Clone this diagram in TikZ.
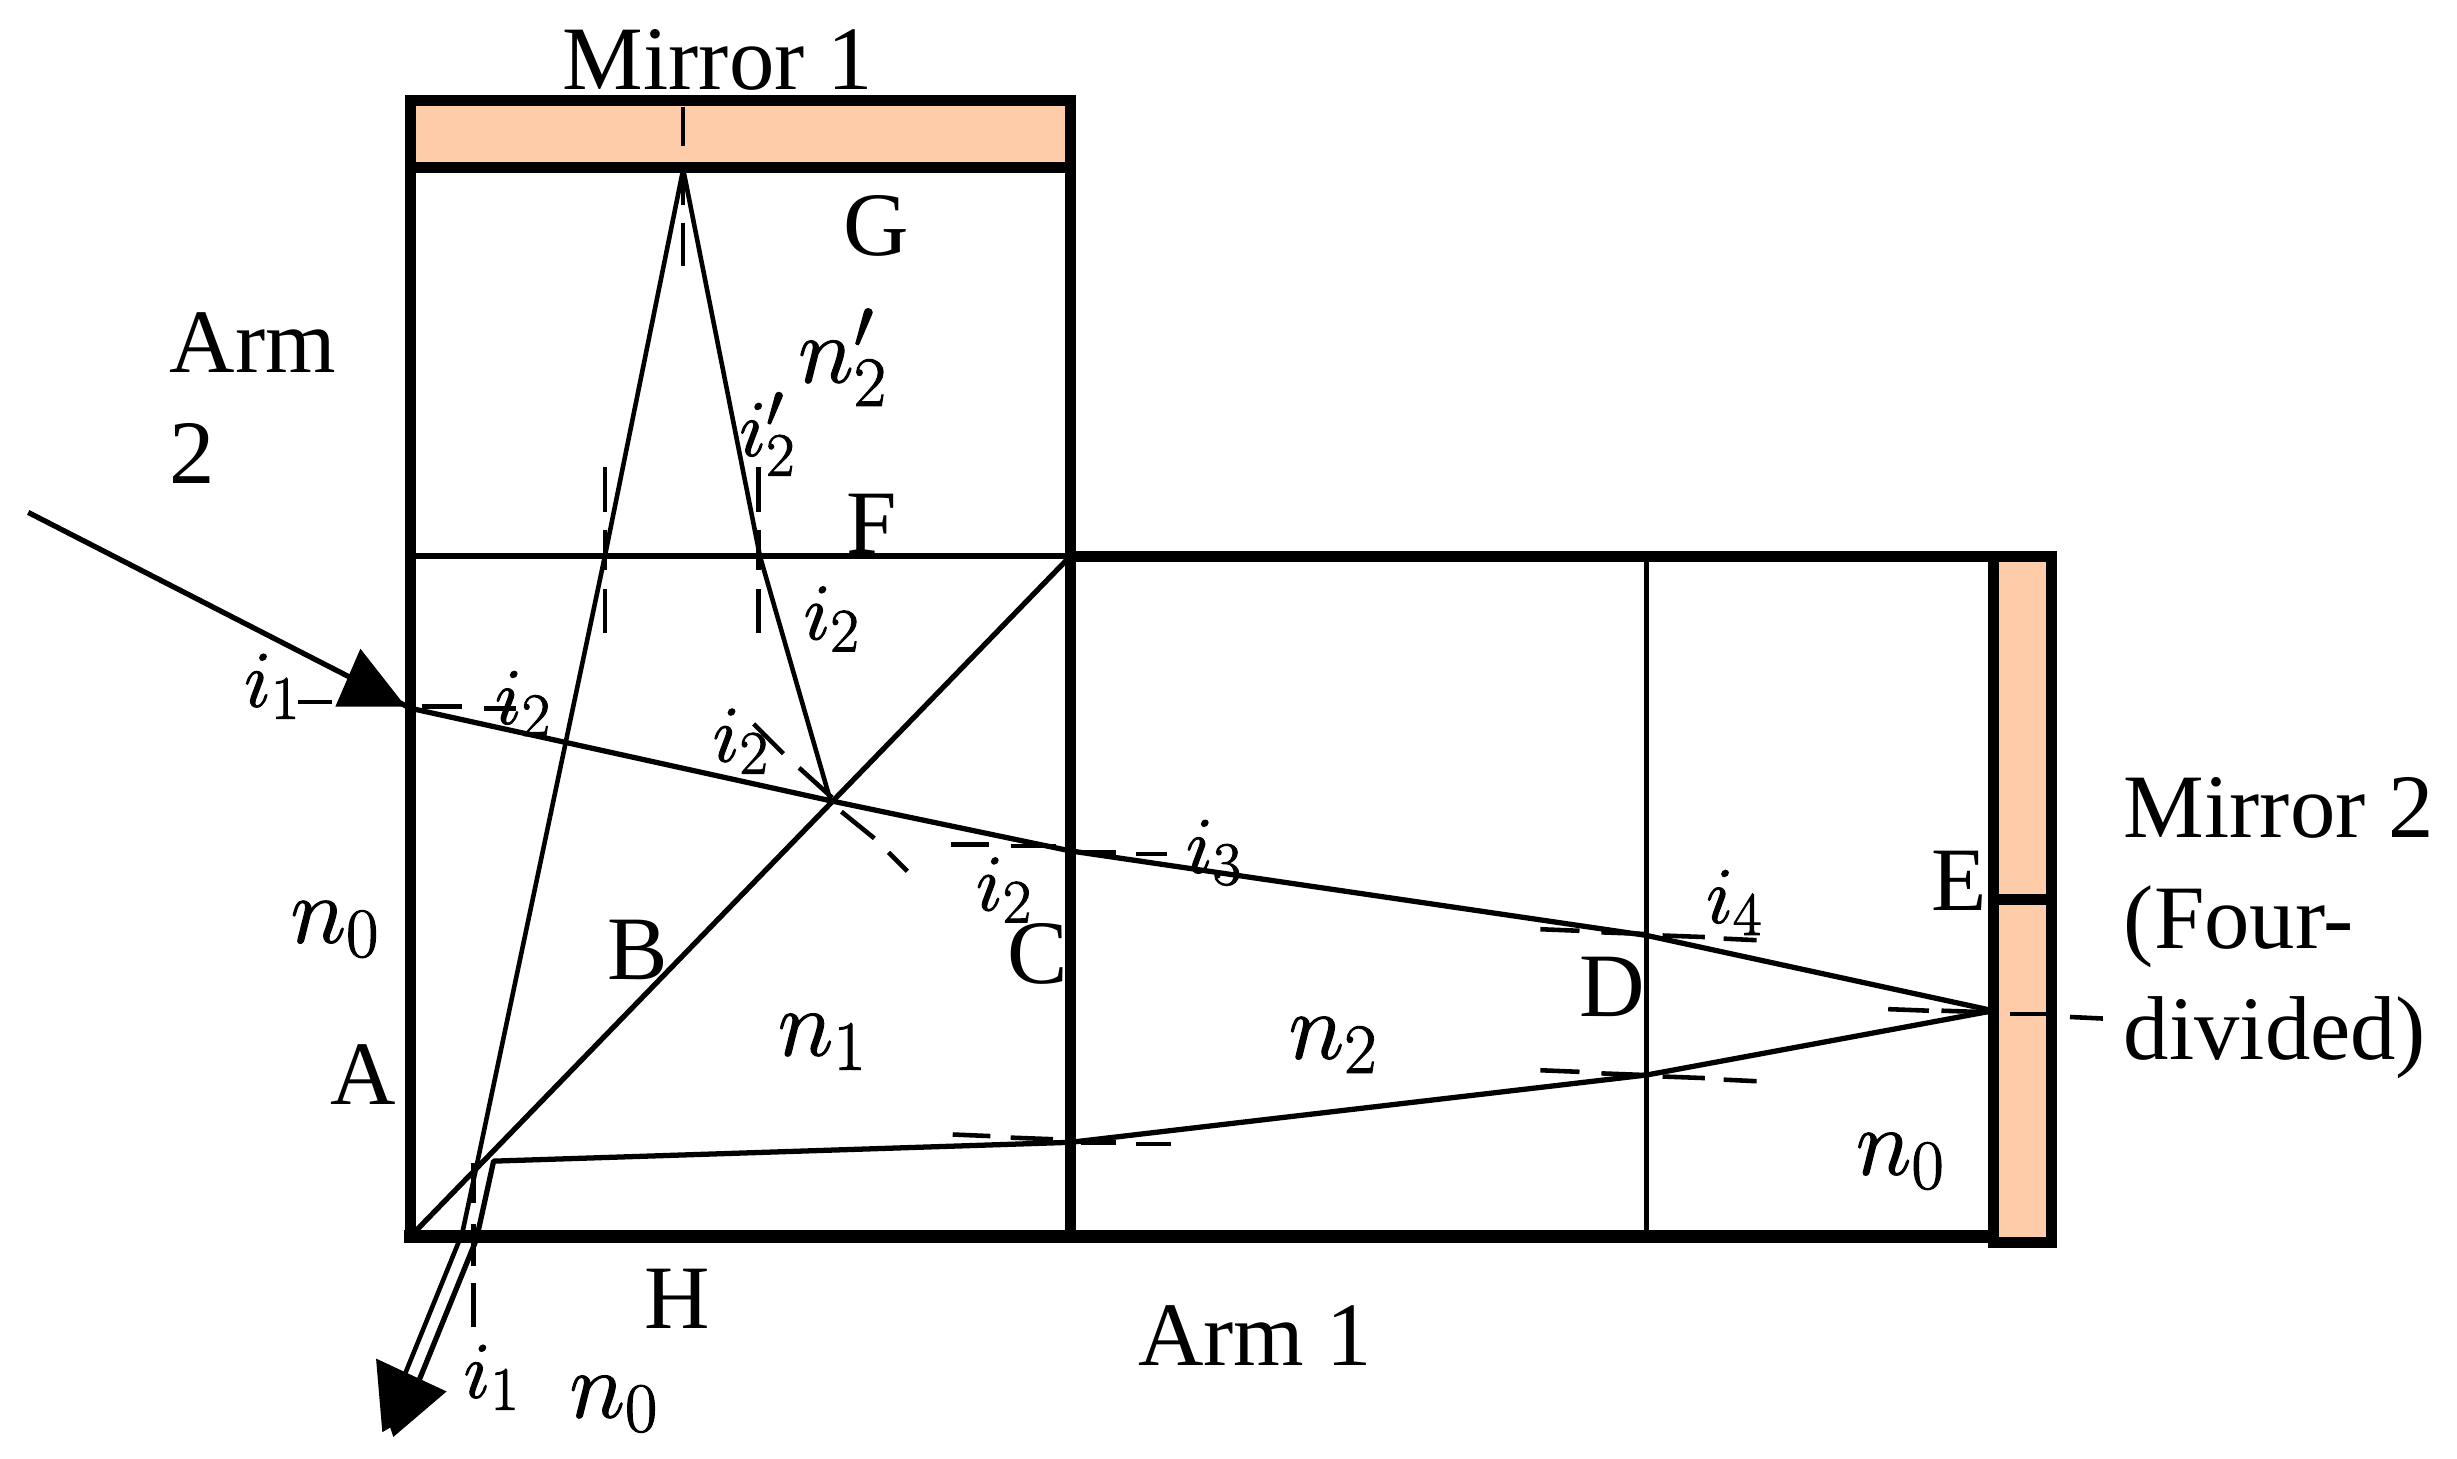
\documentclass[tikz,border=0pt]{standalone}
\usepackage{fix-cm}
\usepackage{fontspec}
\setmainfont{Liberation Serif}
\DeclareMathSizes{27}{27}{20}{16}
\DeclareMathSizes{22.8}{22.8}{17.5}{14}
\definecolor{peach}{HTML}{FFCCAA}
\newcommand{\heavy}[1]{\special{pdf:code 2 Tr 0.3 w}#1\special{pdf:code 0 Tr}}
\tikzset{
  wall/.style={line width=3.1pt,line cap=rect},
  floorline/.style={line width=3.5pt,line cap=rect},
  thinwall/.style={line width=1.6pt},
  ray/.style={line width=1.5pt},
  normal/.style={line width=1.3pt},
  txt/.style={inner sep=0pt,font=\fontsize{25.8}{31.5}\selectfont},
  sym/.style={inner sep=0pt,font=\fontsize{27}{30}\selectfont},
  ang/.style={inner sep=0pt,font=\fontsize{22.8}{25}\selectfont},
  mirrorbox/.style={draw=black,fill=peach,line width=3.1pt,inner sep=0pt}
}
\begin{document}
\begin{tikzpicture}[x=0.01567cm,y=-0.01567cm]
\useasboundingbox (0,0) rectangle (1568,931);
% mirrors
\draw[mirrorbox] (262,64) rectangle (683,107);
\draw[mirrorbox] (1272,355) rectangle (1309,793);
\draw[wall] (1272,574) -- (1309,574);
% walls
\coordinate (TL) at (262,64);
\coordinate (BL) at (262,789);
\coordinate (TR) at (683,64);
\coordinate (BR) at (683,789);
\coordinate (FL) at (262,355);
\coordinate (FR) at (683,355);
\coordinate (MT) at (1272,355);
\coordinate (MB) at (1272,789);
\coordinate (DT) at (1051,355);
\coordinate (DB) at (1051,789);
\draw[wall] (TL) -- (BL);
\draw[floorline] (BL) -- (MB);
\draw[wall] (TR) -- (BR);
\draw[wall] (FR) -- (MT);
\draw[thinwall] (FL) -- (FR);
\draw[line width=1.4pt] (DT) -- (DB);
\draw[line width=1.5pt] (BL) -- (FR);
% ray points
\coordinate (start) at (18,327);
\coordinate (P1) at (262,452);
\coordinate (P2) at (530,511);
\coordinate (P3) at (683,543);
\coordinate (P4) at (1051,597);
\coordinate (P5) at (1272,645);
\coordinate (P6) at (1051,686);
\coordinate (P7) at (683,729);
\coordinate (P8) at (315,741);
\coordinate (P9) at (485,355);
\coordinate (P10) at (436,108);
\coordinate (P11) at (386,355);
\coordinate (P12) at (305,740);
\coordinate (Q1) at (295,787);
\coordinate (Q2) at (258,878);
\coordinate (R1) at (304,791);
\coordinate (R2) at (267,882);
% rays
\draw[ray] (start) -- (P1);
\draw[ray,line join=round] (P1) -- (P2) -- (P3) -- (P4) -- (P5) -- (P6) -- (P7) -- (P8) -- (R1) -- (R2);
\draw[line width=1.3pt,line join=round] (P2) -- (P9) -- (P10) -- (P11) -- (P12) -- (Q1) -- (Q2);
% arrowheads
\fill (230,414) -- (259,451) -- (214,451) -- cycle;
\fill (240,867) -- (285,888) -- (251,917) -- (249,911) -- (244,914) -- cycle;
% normals
\foreach \a/\b/\c/\d in {
 190/448/212/448, 269/451/295/451, 309/452/329/452,
 386/298/386/327, 386/338/386/364, 386/376/386/404,
 484/298/484/327, 484/338/484/364, 484/376/484/404,
 481/462/500/481, 510/490/531/509, 537/518/558/535, 567/544/579/556,
 607/539/631/539, 645/540/674/540, 690/544/712/544, 725/545/745/545,
 983/593/1008/594, 1022/595/1049/596, 1061/597/1088/598, 1100/599/1121/600,
 983/683/1008/684, 1022/685/1049/686, 1061/687/1088/688, 1100/689/1121/690,
 1205/644/1231/645, 1239/645/1270/646, 1283/647/1308/647, 1321/649/1342/650,
 608/724/632/725, 645/726/672/727, 690/729/712/729, 725/730/747/730,
 436/68/436/93, 436/110/436/131, 436/142/436/170,
 302/742/302/768, 302/781/302/808, 302/819/302/847}
 { \draw[normal] (\a,\b) -- (\c,\d); }
% labels
\node[txt] (m1) at (458,38) {Mirror 1};
\node[txt] (g) at (559,144) {G};
\node[txt,align=left,anchor=north west] (arm2) at (108,199) {Arm\\2};
\node[txt] (f) at (556,334) {F};
\node[txt] (b) at (407,606) {B};
\node[txt] (c) at (662,609) {C};
\node[txt] (a) at (232,686) {A};
\node[txt] (d) at (1029,630) {D};
\node[txt] (e) at (1250,562) {E};
\node[txt] (h) at (432,829) {H};
\node[txt] (arm1) at (801,852) {Arm 1};
\node[txt,align=left,anchor=north west] (m2) at (1355,496) {Mirror 2\\(Four-\\divided)};
\node[sym] (n2p) at (538,228) {\heavy{$n_2'$}};
\node[sym] (n0a) at (214,593) {\heavy{$n_0$}};
\node[sym] (n1) at (525,665) {\heavy{$n_1$}};
\node[sym] (n2) at (851,667) {\heavy{$n_2$}};
\node[sym] (n0b) at (1213,741) {\heavy{$n_0$}};
\node[sym] (n0c) at (392,896) {\heavy{$n_0$}};
\node[ang] (i2p) at (490,277) {\heavy{$i_2'$}};
\node[ang] (i2a) at (531,395) {\heavy{$i_2$}};
\node[ang] (i1a) at (174,438) {\heavy{$i_1$}};
\node[ang] (i2b) at (334,449) {\heavy{$i_2$}};
\node[ang] (i2c) at (473,473) {\heavy{$i_2$}};
\node[ang] (i3) at (775,544) {\heavy{$i_3$}};
\node[ang] (i2d) at (641,568) {\heavy{$i_2$}};
\node[ang] (i4) at (1107,576) {\heavy{$i_4$}};
\node[ang] (i1b) at (314,879) {\heavy{$i_1$}};
\end{tikzpicture}
\end{document}
